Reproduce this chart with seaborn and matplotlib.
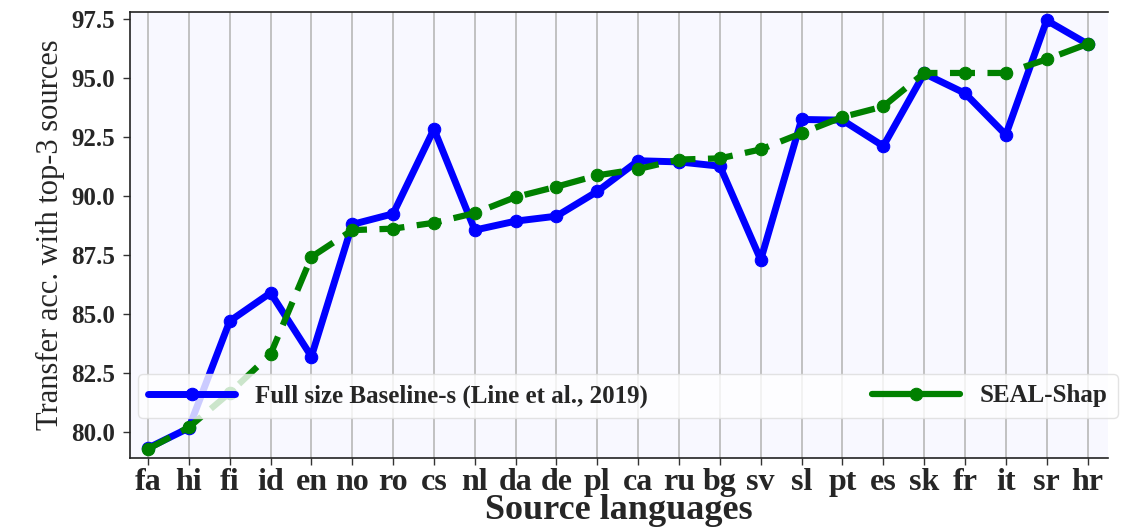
import matplotlib
matplotlib.use("Agg")
import matplotlib.pyplot as plt
import seaborn as sns
import pandas as pd

languages = ['fa', 'hi', 'fi', 'id', 'en', 'no', 'ro', 'cs', 'nl', 'da', 'de', 'pl',
             'ca', 'ru', 'bg', 'sv', 'sl', 'pt', 'es', 'sk', 'fr', 'it', 'sr', 'hr']
baseline = [79.32, 80.17, 84.7, 85.9, 83.2, 88.8, 89.25, 92.84, 88.56, 88.94, 89.15, 90.2,
            91.5, 91.45, 91.27, 87.3, 93.25, 93.22, 92.12, 95.2, 94.36, 92.6, 97.45, 96.45]
seal_shap = [79.28, 80.2, 81.66, 83.3, 87.42, 88.56, 88.62, 88.87, 89.28, 89.96, 90.4, 90.88,
             91.15, 91.55, 91.6, 91.98, 92.67, 93.35, 93.8, 95.22, 95.22, 95.22, 95.8, 96.45]

df = pd.DataFrame({'idx': range(len(languages)), 'base': baseline, 'seal': seal_shap})

sns.set_style("whitegrid")
plt.rcParams['font.family'] = ['Liberation Serif', 'DejaVu Serif']

fig = plt.figure(figsize=(11.23, 5.27), dpi=100)
ax = fig.add_axes([0.1158, 0.131, 0.8708, 0.846])
ax.set_facecolor('#f8f8ff')

sns.lineplot(data=df, x='idx', y='base', ax=ax, color='blue', lw=5, marker='o',
             markersize=9, markeredgecolor='blue', label='Full size Baseline-s (Line et al., 2019)')
sns.lineplot(data=df, x='idx', y='seal', ax=ax, color='green', lw=4.5, marker='o',
             markersize=9, markeredgecolor='green', label='SEAL-Shap')
ax.lines[1].set_dashes([4, 2])

ax.set_xticks(range(len(languages)))
ax.set_xticklabels(languages, fontsize=23, fontweight='bold')
ax.set_xlim(-0.44, 23.5)
ax.set_ylim(78.9, 97.8)
ax.set_yticks([80.0, 82.5, 85.0, 87.5, 90.0, 92.5, 95.0, 97.5])
ax.set_yticklabels(['80.0', '82.5', '85.0', '87.5', '90.0', '92.5', '95.0', '97.5'],
                   fontsize=18, fontweight='bold')
ax.grid(axis='y', visible=False)
ax.grid(axis='x', color='#b8b8b8', lw=1.2)
ax.tick_params(axis='both', length=5, width=1, color='#333333', bottom=True, left=True)
ax.tick_params(axis='y', pad=6)
ax.tick_params(axis='x', pad=2)
for side in ['left', 'bottom', 'top']:
    ax.spines[side].set_color('#222222')
    ax.spines[side].set_linewidth(1.2)
ax.spines['right'].set_visible(False)

ax.set_xlabel('Source languages', fontsize=26, fontweight='bold', labelpad=-2)
ax.set_ylabel('Transfer acc. with top-3 sources', fontsize=22, labelpad=4)

leg = ax.legend(loc='lower left', bbox_to_anchor=(0.008, 0.09, 1.002, 0.085), mode='expand',
                ncol=2, prop={'weight': 'bold', 'size': 18}, framealpha=0.8,
                handlelength=3.5, borderaxespad=0)
leg.get_frame().set_edgecolor('#dddddd')
# legend handle for the dashed series is drawn solid in the original
leg.legend_handles[1].set_linestyle('-')

fig.savefig('out.png', dpi=100)
